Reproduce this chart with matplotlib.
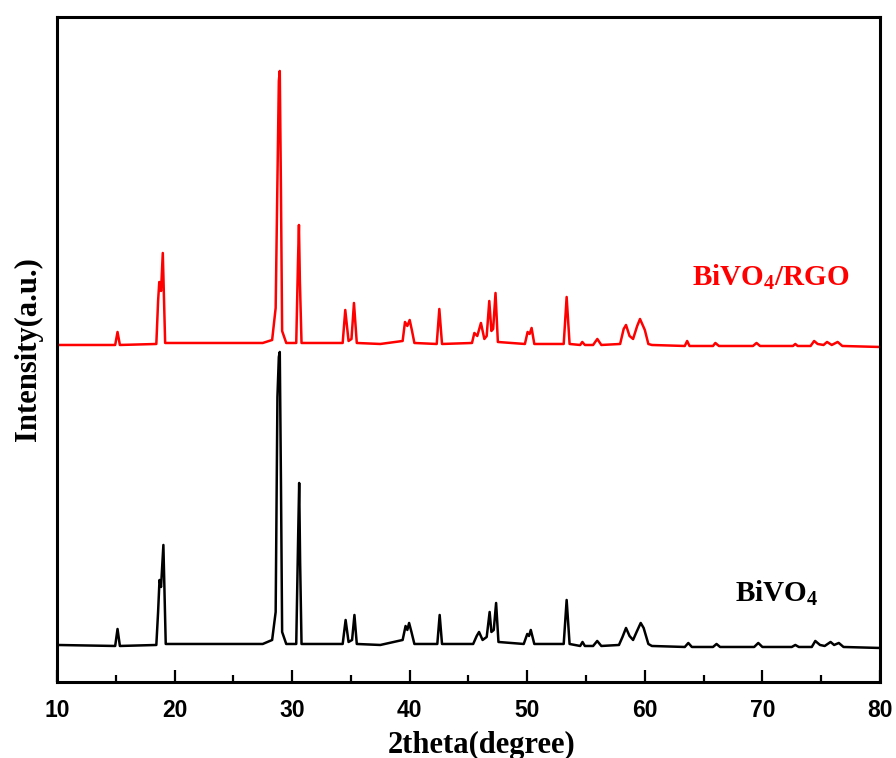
#XRD patterns: BiVO4 and BiVO4/RGO
import matplotlib.pyplot as plt
import numpy as np

plt.rcParams['mathtext.fontset'] = 'custom'
plt.rcParams['mathtext.rm'] = 'Liberation Serif'
plt.rcParams['mathtext.bf'] = 'Liberation Serif:bold'

# BiVO4 (black), vertices (2theta, intensity a.u.)
theta_bivo4 = [10.0, 14.95, 15.15, 15.35, 18.45, 18.6, 18.72, 18.85, 19.05, 19.25,
               27.5, 28.3, 28.6, 28.75, 28.87, 28.95, 29.05, 29.15, 29.5, 30.35, 30.52, 30.6, 30.68, 30.8,
               34.3, 34.55, 34.8, 35.1, 35.3, 35.5, 37.5, 39.4, 39.65, 39.8, 39.95, 40.15, 40.4,
               42.35, 42.55, 42.75, 45.4, 45.7, 45.9, 46.2, 46.55, 46.8, 46.95, 47.15, 47.35, 47.55,
               49.7, 50.0, 50.15, 50.3, 50.6, 53.1, 53.35, 53.6, 54.5, 54.7, 54.9, 55.6, 55.95, 56.3,
               57.8, 58.1, 58.4, 58.7, 59.0, 59.3, 59.65, 59.9, 60.3, 60.6,
               63.4, 63.7, 64.0, 65.8, 66.1, 66.4, 69.3, 69.65, 70.0, 72.5, 72.8, 73.1,
               74.2, 74.5, 74.9, 75.3, 75.8, 76.1, 76.5, 76.9, 80.0]
int_bivo4 = [37, 36, 53, 36, 37, 70, 102, 95, 137, 38,
             38, 42, 70, 285, 325, 330, 200, 50, 38, 38, 150, 199, 120, 38,
             38, 62, 40, 42, 67, 38, 37, 42, 56, 52, 59, 50, 38,
             38, 67, 38, 38, 46, 50, 42, 45, 70, 50, 52, 79, 40,
             38, 48, 46, 52, 38, 38, 82, 38, 36, 40, 36, 36, 41, 36,
             37, 45, 54, 46, 42, 50, 59, 54, 38, 36,
             35, 39, 35, 35, 38, 35, 35, 39, 35, 35, 37, 35,
             35, 41, 37, 36, 40, 37, 39, 35, 34]

# BiVO4/RGO (red)
theta_rgo = [10.0, 14.95, 15.15, 15.35, 18.45, 18.6, 18.7, 18.85, 19.0, 19.2,
             27.5, 28.3, 28.6, 28.75, 28.87, 28.95, 29.05, 29.15, 29.5, 30.35, 30.5, 30.58, 30.66, 30.8,
             34.3, 34.52, 34.8, 35.05, 35.26, 35.5, 37.5, 39.4, 39.6, 39.8, 40.0, 40.2, 40.4,
             42.3, 42.52, 42.75, 45.3, 45.5, 45.75, 46.06, 46.35, 46.55, 46.77, 46.95, 47.1, 47.3, 47.5,
             49.8, 50.03, 50.2, 50.37, 50.6, 53.1, 53.35, 53.6, 54.5, 54.68, 54.9, 55.6, 55.96, 56.3,
             57.9, 58.2, 58.4, 58.7, 59.0, 59.35, 59.59, 60.0, 60.3, 60.6,
             63.4, 63.6, 63.8, 65.8, 66.0, 66.3, 69.2, 69.5, 69.8, 72.6, 72.8, 73.0,
             74.1, 74.4, 74.7, 75.2, 75.5, 75.9, 76.4, 76.8, 80.0]
int_rgo = [36, 36, 49, 36, 37, 80, 99, 90, 128, 38,
           38, 41, 73, 200, 300, 310, 190, 50, 38, 38, 120, 156, 100, 38,
           38, 71, 40, 42, 78, 38, 37, 40, 59, 55, 61, 50, 38,
           37, 72, 37, 38, 48, 45, 58, 42, 45, 80, 50, 52, 88, 39,
           37, 49, 47, 53, 37, 37, 84, 37, 36, 39, 36, 36, 42, 36,
           37, 52, 56, 45, 42, 55, 62, 51, 37, 36,
           35, 40, 35, 35, 38, 35, 35, 38, 35, 35, 37, 35,
           35, 40, 37, 36, 39, 36, 39, 35, 34]
offset_rgo = 301

fig = plt.figure(figsize=(8.96, 7.58), dpi=100)
ax = fig.add_axes([0.0636, 0.1003, 0.9185, 0.8773])

ax.plot(theta_bivo4, int_bivo4, color='black', lw=1.8)
ax.plot(theta_rgo, np.array(int_rgo) + offset_rgo, color='red', lw=1.8)

ax.set_xlim(10, 80)
ax.set_ylim(0, 665)
ax.set_xticks(range(10, 81, 10))
ax.set_xticks(range(15, 80, 10), minor=True)
ax.set_yticks([])
ax.tick_params(axis='x', which='major', direction='in', length=8.5, width=1.6, pad=12)
ax.tick_params(axis='x', which='minor', direction='in', length=5, width=1.6)
for lab in ax.get_xticklabels():
    lab.set_fontfamily('Liberation Sans')
    lab.set_fontweight('bold')
    lab.set_fontsize(16.5)
for s in ax.spines.values():
    s.set_linewidth(2.2)

ax.set_xlabel('2theta(degree)', family='Liberation Serif', fontweight='bold', fontsize=22)
ax.xaxis.set_label_coords(0.516, -0.073)
ax.set_ylabel('Intensity(a.u.)', family='Liberation Serif', fontweight='bold', fontsize=22, labelpad=10)

fig.text(771 / 896, 1 - 277 / 758, r'BiVO$_\mathbf{4}$/RGO', color='red', family='Liberation Serif',
         fontweight='bold', fontsize=21, ha='center', va='center')
fig.text(777 / 896, 1 - 593 / 758, r'BiVO$_\mathbf{4}$', color='black', family='Liberation Serif',
         fontweight='bold', fontsize=21, ha='center', va='center')

plt.savefig('out.png', dpi=100)
